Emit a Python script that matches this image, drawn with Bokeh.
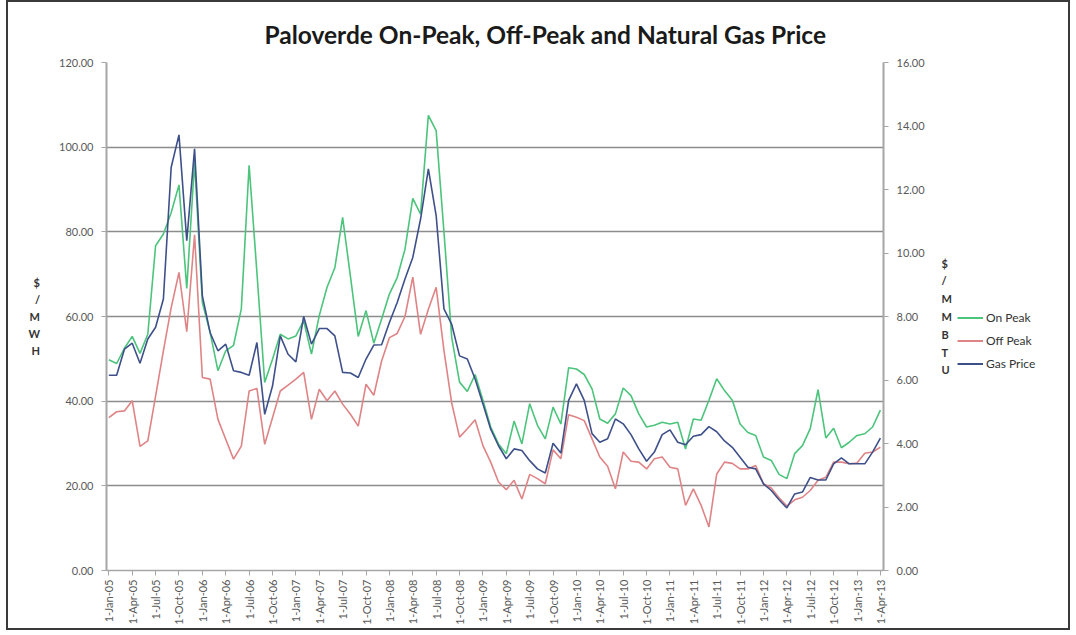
import math
from bokeh.plotting import figure
from bokeh.layouts import row
from bokeh.models import (Range1d, LinearAxis, FixedTicker, NumeralTickFormatter,
                          Legend, LegendItem)
from bokeh.embed import file_html
from bokeh.resources import INLINE

# ---------------- data (monthly, Jan-2005 .. Apr-2013) ----------------
month_index = list(range(100))

on_peak = [49.8, 48.9, 52.5, 55.3, 51.3, 55.8, 76.7, 79.5, 84.5, 91.1,
           66.6, 96.5, 63.3, 56.2, 47.2, 51.9, 53.2, 61.8, 95.7, 70.4,
           44.4, 49.9, 55.8, 54.7, 55.4, 59.0, 51.1, 60.2, 66.9, 71.5,
           83.4, 69.5, 55.3, 61.4, 53.7, 59.4, 65.3, 69.2, 75.9, 87.9,
           84.2, 107.5, 103.9, 80.0, 55.0, 44.5, 42.3, 46.3, 40.2, 33.9,
           29.9, 27.6, 35.3, 29.9, 39.4, 34.3, 31.1, 38.6, 34.6, 47.9,
           47.6, 46.3, 42.9, 35.8, 34.8, 37.0, 43.1, 41.3, 37.0, 33.9,
           34.3, 35.0, 34.6, 35.0, 28.7, 35.8, 35.5, 40.2, 45.3, 42.5,
           40.2, 34.6, 32.6, 31.9, 26.8, 26.0, 22.7, 21.7, 27.6, 29.5,
           33.5, 42.7, 31.3, 33.6, 29.0, 30.3, 31.9, 32.3, 33.9, 37.9]

off_peak = [36.1, 37.5, 37.7, 40.1, 29.3, 30.6, 41.2, 51.9, 62.1, 70.4,
            56.4, 79.3, 45.6, 45.2, 35.7, 31.0, 26.3, 29.4, 42.4, 43.0,
            29.8, 36.1, 42.4, 43.8, 45.2, 46.8, 35.7, 42.8, 40.1, 42.4,
            39.3, 36.9, 34.1, 44.0, 41.4, 49.5, 55.0, 56.0, 60.0, 69.3,
            55.8, 61.7, 66.9, 52.0, 39.5, 31.5, 33.5, 35.6, 29.5, 25.6,
            20.9, 19.1, 21.3, 16.9, 22.7, 21.7, 20.5, 28.5, 26.4, 36.8,
            36.2, 35.4, 31.1, 26.8, 24.6, 19.3, 28.0, 25.8, 25.6, 24.0,
            26.4, 26.8, 24.4, 24.0, 15.4, 19.3, 15.4, 10.3, 22.8, 25.6,
            25.3, 24.0, 24.0, 24.8, 20.5, 19.5, 17.2, 15.2, 16.7, 17.3,
            18.9, 21.3, 22.0, 25.6, 25.6, 25.2, 25.4, 27.7, 28.0, 29.1]

gas_price = [6.15, 6.15, 6.97, 7.16, 6.53, 7.29, 7.66, 8.55, 12.70, 13.72,
             10.39, 13.28, 8.65, 7.49, 6.92, 7.13, 6.29, 6.24, 6.15, 7.18,
             4.92, 5.81, 7.39, 6.81, 6.57, 8.00, 7.13, 7.62, 7.62, 7.39,
             6.24, 6.22, 6.08, 6.66, 7.10, 7.11, 7.81, 8.44, 9.18, 9.86,
             11.07, 12.65, 11.18, 8.24, 7.75, 6.76, 6.66, 6.03, 5.25, 4.45,
             3.93, 3.52, 3.83, 3.78, 3.46, 3.20, 3.07, 4.01, 3.70, 5.36,
             5.88, 5.36, 4.31, 4.04, 4.15, 4.77, 4.62, 4.28, 3.83, 3.44,
             3.73, 4.28, 4.43, 4.04, 3.96, 4.23, 4.28, 4.53, 4.37, 4.08,
             3.88, 3.57, 3.25, 3.20, 2.73, 2.52, 2.23, 1.97, 2.41, 2.47,
             2.93, 2.85, 2.85, 3.36, 3.55, 3.36, 3.36, 3.36, 3.73, 4.17]

tick_labels = ["1-Jan-05", "1-Apr-05", "1-Jul-05", "1-Oct-05",
               "1-Jan-06", "1-Apr-06", "1-Jul-06", "1-Oct-06",
               "1-Jan-07", "1-Apr-07", "1-Jul-07", "1-Oct-07",
               "1-Jan-08", "1-Apr-08", "1-Jul-08", "1-Oct-08",
               "1-Jan-09", "1-Apr-09", "1-Jul-09", "1-Oct-09",
               "1-Jan-10", "1-Apr-10", "1-Jul-10", "1-Oct-10",
               "1-Jan-11", "1-Apr-11", "1-Jul-11", "1-Oct-11",
               "1-Jan-12", "1-Apr-12", "1-Jul-12", "1-Oct-12",
               "1-Jan-13", "1-Apr-13"]
tick_positions = list(range(0, 100, 3))

left_ticks = [0, 20, 40, 60, 80, 100, 120]
right_ticks = [0, 2, 4, 6, 8, 10, 12, 14, 16]

title_text = "Paloverde On-Peak, Off-Peak and Natural Gas Price"
left_title = "$/MWH"
right_title = "$/MMBTU"
series_names = ["On Peak", "Off Peak", "Gas Price"]
series_colors = ["#4cc47c", "#df8486", "#3e5089"]

FONT = "Lato"
TXT = "#595959"
H = 626

# ---------------- main chart ----------------
p = figure(width=947, height=H, output_backend="svg", toolbar_location=None,
           x_range=Range1d(-0.3, 99.4), y_range=Range1d(0, 120),
           min_border_left=98, min_border_right=70,
           min_border_top=60, min_border_bottom=58)
p.outline_line_color = None
p.background_fill_color = "white"
p.border_fill_color = "white"

p.title.text = title_text
p.title.align = "left"
p.title.offset = 158
p.title.standoff = 27
p.title.text_font = FONT
p.title.text_font_style = "bold"
p.title.text_font_size = "24.5px"
p.title.text_color = "#1a1a1a"

p.extra_y_ranges = {"gas": Range1d(0, 16)}

# x axis
xa = p.xaxis[0]
xa.ticker = FixedTicker(ticks=tick_positions)
xa.major_label_overrides = {pos: lab for pos, lab in zip(tick_positions, tick_labels)}
xa.major_label_orientation = math.pi / 2
xa.major_label_text_font = FONT
xa.major_label_text_font_size = "11px"
xa.major_label_text_color = TXT
xa.major_label_standoff = 4
xa.axis_line_color = "#a6a6a6"
xa.axis_line_width = 1.5
xa.major_tick_line_color = "#a6a6a6"
xa.major_tick_out = 5
xa.major_tick_in = 0
xa.minor_tick_line_color = None
p.xgrid.visible = False

# left axis
ya = p.yaxis[0]
ya.ticker = FixedTicker(ticks=left_ticks)
ya.formatter = NumeralTickFormatter(format="0.00")
ya.major_label_text_font = FONT
ya.major_label_text_font_size = "11px"
ya.major_label_text_color = TXT
ya.major_label_standoff = 8
ya.axis_line_color = "#a6a6a6"
ya.axis_line_width = 2
ya.major_tick_line_color = "#a6a6a6"
ya.major_tick_out = 5
ya.major_tick_in = 0
ya.minor_tick_line_color = None
ya.axis_label = "\n".join(left_title)
ya.axis_label_orientation = "horizontal"
ya.axis_label_standoff = 16
ya.axis_label_text_font = FONT
ya.axis_label_text_font_style = "bold"
ya.axis_label_text_font_size = "11px"
ya.axis_label_text_color = "#333333"
ya.axis_label_text_line_height = 1.31
ya.axis_label_text_align = "center"

p.ygrid.ticker = FixedTicker(ticks=left_ticks)
p.ygrid.grid_line_color = "#8c8c8c"
p.ygrid.grid_line_width = 1.4

# right axis
ra = LinearAxis(y_range_name="gas", ticker=FixedTicker(ticks=right_ticks),
                formatter=NumeralTickFormatter(format="0.00"))
ra.major_label_text_font = FONT
ra.major_label_text_font_size = "11px"
ra.major_label_text_color = TXT
ra.major_label_standoff = 8
ra.axis_line_color = "#a6a6a6"
ra.axis_line_width = 2
ra.major_tick_line_color = "#a6a6a6"
ra.major_tick_out = 5
ra.major_tick_in = 0
ra.minor_tick_line_color = None
ra.axis_label = "\n".join(right_title)
ra.axis_label_orientation = "horizontal"
ra.axis_label_standoff = 14
ra.axis_label_text_font = FONT
ra.axis_label_text_font_style = "bold"
ra.axis_label_text_font_size = "11px"
ra.axis_label_text_color = "#333333"
ra.axis_label_text_line_height = 1.37
ra.axis_label_text_align = "center"
p.add_layout(ra, "right")

# series
p.line(month_index, on_peak, line_color=series_colors[0], line_width=1.6)
p.line(month_index, off_peak, line_color=series_colors[1], line_width=1.6)
p.line(month_index, gas_price, line_color=series_colors[2], line_width=1.6,
       y_range_name="gas")

# ---------------- legend panel (separate canvas, right of the chart) ----------------
# its ranges are set so that the series themselves fall outside the view:
# only the legend entries (which sample the renderers' styles) are seen.
lf = figure(width=113, height=H, output_backend="svg", toolbar_location=None,
            x_range=Range1d(1000, 1001), y_range=Range1d(1000, 1001),
            x_axis_location=None, y_axis_location=None,
            min_border=0, min_border_left=0, min_border_right=0,
            min_border_top=0, min_border_bottom=0)
lf.outline_line_color = None
lf.background_fill_color = "white"
lf.border_fill_color = "white"
lf.xgrid.visible = False
lf.ygrid.visible = False

leg_renderers = [lf.line(month_index, vals, line_color=c, line_width=2)
                 for vals, c in zip([on_peak, off_peak, gas_price], series_colors)]

legend = Legend(items=[LegendItem(label=n, renderers=[r])
                       for n, r in zip(series_names, leg_renderers)],
                location=(2, 198))
legend.label_text_font = FONT
legend.label_text_font_size = "12px"
legend.label_text_color = "#333333"
legend.glyph_width = 26
legend.glyph_height = 17
legend.label_height = 17
legend.spacing = 6
legend.padding = 0
legend.margin = 0
legend.label_standoff = 3
legend.background_fill_alpha = 0
legend.border_line_alpha = 0
lf.add_layout(legend)

layout = row(p, lf)
layout.styles = {"border": "2px solid #3a3a3a", "margin-left": "6px"}

open("out.html", "w").write(file_html(layout, INLINE))
